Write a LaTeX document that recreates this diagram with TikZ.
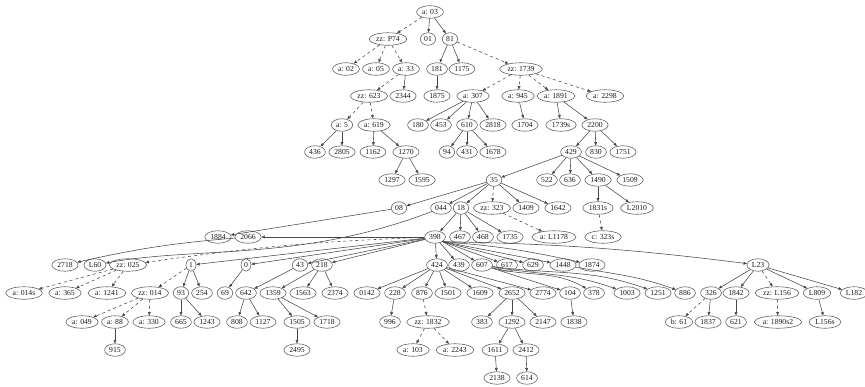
\documentclass[tikz,border=0pt]{standalone}
\usepackage{fontspec}
\setmainfont{Liberation Serif}
\usetikzlibrary{shapes.geometric,arrows.meta}

\begin{document}
\begin{tikzpicture}[x=1pt, y=-1pt, color=black!72, line width=0.55pt,
    >={Triangle[length=3.4pt,width=2.8pt]},
    el/.style={ellipse, draw=black!62, line width=0.6pt, text=black!90, inner xsep=1.6pt, inner ysep=0pt,
        minimum height=12.5pt, font=\fontsize{7.7}{8}\selectfont}]
    \useasboundingbox (0, 0) rectangle (865, 386);

    % rows 0-3
    \node[el] (a03) at (430, 12) {a: 03};
    \node[el] (zP74) at (388, 39) {zz: P74};
    \node[el] (n01) at (428, 39) {01};
    \node[el] (n81) at (450, 39) {81};
    \node[el] (a02) at (346, 69) {a: 02};
    \node[el] (a05) at (376, 69) {a: 05};
    \node[el] (a33) at (406, 69) {a: 33};
    \node[el] (n181) at (437, 69) {181};
    \node[el] (n1175) at (462, 69) {1175};
    \node[el] (z1739) at (521, 69) {zz: 1739};
    \node[el] (z623) at (369, 96) {zz: 623};
    \node[el] (n2344) at (403, 96) {2344};
    \node[el] (n1875) at (437, 96) {1875};
    \node[el] (a307) at (473, 96) {a: 307};
    \node[el] (a945) at (518, 96) {a: 945};
    \node[el] (a1891) at (556, 96) {a: 1891};
    \node[el] (a2298) at (605, 96) {a: 2298};

    % rows 4-7
    \node[el] (a5) at (342, 125) {a: 5};
    \node[el] (a619) at (374, 125) {a: 619};
    \node[el] (n180) at (418, 125) {180};
    \node[el] (n453) at (441, 125) {453};
    \node[el] (n610) at (467, 125) {610};
    \node[el] (n2818) at (493, 125) {2818};
    \node[el] (n1704) at (525, 125) {1704};
    \node[el] (n1739s) at (561, 125) {1739s};
    \node[el] (n2200) at (595, 125) {2200};
    \node[el] (n436) at (315, 152) {436};
    \node[el] (n2805) at (342, 152) {2805};
    \node[el] (n1162) at (373, 152) {1162};
    \node[el] (n1270) at (406, 152) {1270};
    \node[el] (n94) at (447, 152) {94};
    \node[el] (n431) at (467, 152) {431};
    \node[el] (n1678) at (493, 152) {1678};
    \node[el] (n429) at (571, 152) {429};
    \node[el] (n830) at (596, 152) {830};
    \node[el] (n1751) at (623, 152) {1751};
    \node[el] (n1297) at (392, 180) {1297};
    \node[el] (n1595) at (422, 180) {1595};
    \node[el] (n35) at (494, 180) {35};
    \node[el] (n522) at (547, 180) {522};
    \node[el] (n636) at (570, 180) {636};
    \node[el] (n1490) at (598, 180) {1490};
    \node[el] (n1509) at (630, 180) {1509};
    \node[el] (n08) at (399, 208) {08};
    \node[el] (n044) at (441, 208) {044};
    \node[el] (n18) at (461, 208) {18};
    \node[el] (z323) at (492, 208) {zz: 323};
    \node[el] (n1409) at (526, 208) {1409};
    \node[el] (n1642) at (558, 208) {1642};
    \node[el] (n1831s) at (598, 208) {1831s};
    \node[el] (L2010) at (637, 208) {L2010};

    % rows 8-9
    \node[el] (n1884) at (218, 237) {1884};
    \node[el] (n2066) at (248, 237) {2066};
    \node[el] (n398) at (435, 237) {398};
    \node[el] (n467) at (460, 237) {467};
    \node[el] (n468) at (483, 237) {468};
    \node[el] (n1735) at (510, 237) {1735};
    \node[el] (aL1178) at (554, 237) {a: L1178};
    \node[el] (c323s) at (603, 237) {c: 323s};
    \node[el] (n2718) at (65, 265) {2718};
    \node[el] (L60) at (95, 265) {L60};
    \node[el] (z025) at (128, 265) {zz: 025};
    \node[el] (n1) at (191, 265) {1};
    \node[el] (n0) at (246, 265) {0};
    \node[el] (n43) at (300, 265) {43};
    \node[el] (n218) at (322, 265) {218};
    \node[el] (n424) at (437, 265) {424};
    \node[el] (n439) at (459, 265) {439};
    \node[el] (n607) at (482, 265) {607};
    \node[el] (n617) at (507, 265) {617};
    \node[el] (n629) at (533, 265) {629};
    \node[el] (n1448) at (563, 265) {1448};
    \node[el] (n1874) at (592, 265) {1874};
    \node[el] (L23) at (758, 265) {L23};

    % row 10
    \node[el] (a014s) at (24, 293) {a: 014s};
    \node[el] (a365) at (65, 293) {a: 365};
    \node[el] (a1241) at (107, 293) {a: 1241};
    \node[el] (z014) at (150, 293) {zz: 014};
    \node[el] (n93) at (181, 293) {93};
    \node[el] (n254) at (202, 293) {254};
    \node[el] (n69) at (225, 293) {69};
    \node[el] (n642) at (246, 293) {642};
    \node[el] (n1359) at (273, 293) {1359};
    \node[el] (n1563) at (303, 293) {1563};
    \node[el] (n2374) at (335, 293) {2374};
    \node[el] (n0142) at (367, 293) {0142};
    \node[el] (n228) at (395, 293) {228};
    \node[el] (n876) at (422, 293) {876};
    \node[el] (n1501) at (448, 293) {1501};
    \node[el] (n1609) at (480, 293) {1609};
    \node[el] (n2652) at (512, 293) {2652};
    \node[el] (n2774) at (543, 293) {2774};
    \node[el] (n104) at (570, 293) {104};
    \node[el] (n378) at (594, 293) {378};
    \node[el] (n1003) at (627, 293) {1003};
    \node[el] (n1251) at (658, 293) {1251};
    \node[el] (n886) at (685, 293) {886};
    \node[el] (n326) at (711, 293) {326};
    \node[el] (n1842) at (736, 293) {1842};
    \node[el] (zL156) at (777, 293) {zz: L156};
    \node[el] (L809) at (817, 293) {L809};
    \node[el] (L182) at (854, 293) {L182};

    % rows 11-13
    \node[el] (a049) at (82, 322) {a: 049};
    \node[el] (a88) at (115, 322) {a: 88};
    \node[el] (a330) at (149, 322) {a: 330};
    \node[el] (n665) at (181, 322) {665};
    \node[el] (n1243) at (207, 322) {1243};
    \node[el] (n808) at (237, 322) {808};
    \node[el] (n1127) at (263, 322) {1127};
    \node[el] (n1505) at (297, 322) {1505};
    \node[el] (n1718) at (327, 322) {1718};
    \node[el] (n996) at (390, 322) {996};
    \node[el] (z1832) at (428, 322) {zz: 1832};
    \node[el] (n383) at (482, 322) {383};
    \node[el] (n1292) at (512, 322) {1292};
    \node[el] (n2147) at (543, 322) {2147};
    \node[el] (n1838) at (574, 322) {1838};
    \node[el] (b61) at (679, 322) {b: 61};
    \node[el] (n1837) at (708, 322) {1837};
    \node[el] (n621) at (736, 322) {621};
    \node[el] (a1890s2) at (778, 322) {a: 1890s2};
    \node[el] (L156s) at (825, 322) {L156s};
    \node[el] (n915) at (115, 350) {915};
    \node[el] (n2495) at (297, 350) {2495};
    \node[el] (a103) at (413, 350) {a: 103};
    \node[el] (a2243) at (455, 350) {a: 2243};
    \node[el] (n1611) at (495, 350) {1611};
    \node[el] (n2412) at (526, 350) {2412};
    \node[el] (n2138) at (497, 378) {2138};
    \node[el] (n614) at (527, 378) {614};

    % upper tree
    \draw[->, dashed] (a03) -- (zP74); \draw[->] (a03) -- (n01); \draw[->] (a03) -- (n81);
    \draw[->, dashed] (zP74) -- (a02); \draw[->, dashed] (zP74) -- (a05); \draw[->, dashed] (zP74) -- (a33);
    \draw[->] (n81) -- (n181); \draw[->] (n81) -- (n1175); \draw[->, dashed] (n81) -- (z1739);
    \draw[->, dashed] (a33) -- (z623); \draw[->] (a33) -- (n2344);
    \draw[->] (n181) -- (n1875);
    \draw[->, dashed] (z1739) -- (a307); \draw[->, dashed] (z1739) -- (a945);
    \draw[->, dashed] (z1739) -- (a1891); \draw[->, dashed] (z1739) -- (a2298);
    \draw[->, dashed] (z623) -- (a5); \draw[->, dashed] (z623) -- (a619);
    \draw[->] (a5) -- (n436); \draw[->] (a5) -- (n2805);
    \draw[->] (a619) -- (n1162); \draw[->] (a619) -- (n1270);
    \draw[->] (n1270) -- (n1297); \draw[->] (n1270) -- (n1595);
    \draw[->] (a307) -- (n180); \draw[->] (a307) -- (n453); \draw[->] (a307) -- (n610); \draw[->] (a307) -- (n2818);
    \draw[->] (n610) -- (n94); \draw[->] (n610) -- (n431); \draw[->] (n610) -- (n1678);
    \draw[->] (a945) -- (n1704);
    \draw[->] (a1891) -- (n1739s); \draw[->] (a1891) -- (n2200);
    \draw[->] (n2200) -- (n429); \draw[->] (n2200) -- (n830); \draw[->] (n2200) -- (n1751);
    \draw[->] (n429) -- (n35); \draw[->] (n429) -- (n522); \draw[->] (n429) -- (n636);
    \draw[->] (n429) -- (n1490); \draw[->] (n429) -- (n1509);
    \draw[->] (n1490) -- (n1831s); \draw[->] (n1490) -- (L2010);
    \draw[->, dashed] (n1831s) -- (c323s);

    % below 35
    \draw[->] (n35) -- (n08); \draw[->] (n35) -- (n044); \draw[->] (n35) -- (n18);
    \draw[->, dashed] (n35) -- (z323); \draw[->] (n35) -- (n1409); \draw[->] (n35) -- (n1642);
    \draw[->, dashed] (z323) -- (aL1178);
    \draw[->] (n18) -- (n398); \draw[->] (n18) -- (n467); \draw[->] (n18) -- (n468); \draw[->] (n18) -- (n1735);
    \draw[->] (n08) -- (n1884);
    \draw[->] (n044) .. controls (300, 262) and (200, 246) .. (L60);
    \draw[->] (n2066) to[bend right=4] (n2718);

    % out of 398
    \draw[->] (n398) -- (n2066);
    \draw[->, dashed] (n398) to[bend right=3] (z025);
    \draw[->] (n398) -- (n1); \draw[->] (n398) -- (n0);
    \draw[->] (n398) -- (n43); \draw[->] (n398) -- (n218);
    \draw[->] (n398) -- (n424); \draw[->] (n398) -- (n439); \draw[->] (n398) -- (n607);
    \draw[->] (n398.south east) -- (n617); \draw[->] (n398.south east) -- (n629);
    \draw[->] (n398.south east) -- (n1448);
    \draw[->] (n398.south east) to[bend left=4] (n1874); \draw[->] (n398.south east) to[bend left=3] (L23);

    % row 9 down
    \draw[->, dashed] (z025) -- (a014s); \draw[->, dashed] (z025) -- (a365); \draw[->, dashed] (z025) -- (a1241);
    \draw[->, dashed] (n1) -- (z014); \draw[->] (n1) -- (n93); \draw[->] (n1) -- (n254);
    \draw[->] (n0) -- (n69);
    \draw[->] (n43) -- (n642);
    \draw[->] (n218) -- (n1359); \draw[->] (n218) -- (n1563); \draw[->] (n218) -- (n2374);
    \draw[->] (n424) -- (n0142); \draw[->] (n424) -- (n228); \draw[->] (n424) -- (n876);
    \draw[->] (n424) -- (n1501); \draw[->] (n424) -- (n1609); \draw[->] (n424) -- (n2652); \draw[->] (n424) -- (n2774);
    \draw[->] (n607) -- (n104);
    \draw[->] (n607) to[out=-15, in=150] (n378);
    \draw[->] (n607) to[out=-10, in=160] (n1003);
    \draw[->] (n607) to[out=-8, in=160] (n1251);
    \draw[->] (n1448) to[out=-10, in=160] (n886);
    \draw[->] (L23) -- (n326); \draw[->] (L23) -- (n1842); \draw[->, dashed] (L23) -- (zL156);
    \draw[->] (L23) -- (L809); \draw[->] (L23) -- (L182);

    % lower rows
    \draw[->, dashed] (z014) -- (a049); \draw[->, dashed] (z014) -- (a88); \draw[->, dashed] (z014) -- (a330);
    \draw[->] (a88) -- (n915);
    \draw[->] (n93) -- (n665); \draw[->] (n93) -- (n1243);
    \draw[->] (n642) -- (n808); \draw[->] (n642) -- (n1127);
    \draw[->] (n1359) -- (n1505); \draw[->] (n1359) -- (n1718);
    \draw[->] (n1505) -- (n2495);
    \draw[->] (n228) -- (n996);
    \draw[->, dashed] (n876) -- (z1832);
    \draw[->, dashed] (z1832) -- (a103); \draw[->, dashed] (z1832) -- (a2243);
    \draw[->] (n2652) -- (n383); \draw[->] (n2652) -- (n1292); \draw[->] (n2652) -- (n2147);
    \draw[->] (n1292) -- (n1611); \draw[->] (n1292) -- (n2412);
    \draw[->] (n1611) -- (n2138); \draw[->] (n2412) -- (n614);
    \draw[->] (n104) -- (n1838);
    \draw[->, dashed] (n326) -- (b61); \draw[->] (n326) -- (n1837);
    \draw[->] (n1842) -- (n621);
    \draw[->, dashed] (zL156) -- (a1890s2);
    \draw[->] (L809) -- (L156s);
\end{tikzpicture}
\end{document}
